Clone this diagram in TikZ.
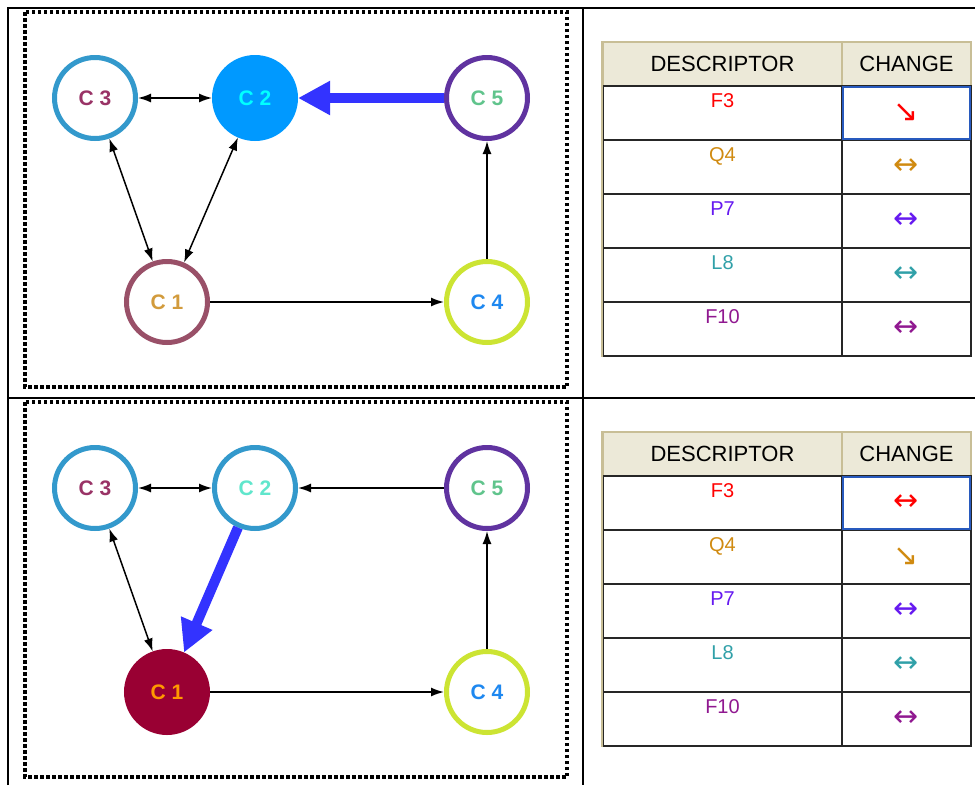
\documentclass[tikz,border=0pt]{standalone}
\usepackage{fontspec}
\setmainfont{Liberation Sans}
\newfontfamily\glyphfont{DejaVu Sans}
\usepackage{tikz}
\usetikzlibrary{arrows.meta,positioning}
\definecolor{RingBlue}{RGB}{51, 153, 204}
\definecolor{FillBlue}{RGB}{0, 153, 255}
\definecolor{RingPurple}{RGB}{96, 51, 160}
\definecolor{RingMauve}{RGB}{153, 80, 104}
\definecolor{RingLime}{RGB}{204, 228, 51}
\definecolor{FillWine}{RGB}{153, 0, 51}
\definecolor{TxtMaroon}{RGB}{153, 51, 102}
\definecolor{TxtCyan}{RGB}{0, 255, 255}
\definecolor{TxtMint}{RGB}{96, 196, 140}
\definecolor{TxtGold}{RGB}{210, 155, 60}
\definecolor{TxtSky}{RGB}{30, 136, 240}
\definecolor{TxtAqua}{RGB}{96, 230, 204}
\definecolor{TxtOrange}{RGB}{255, 153, 0}
\definecolor{HotBlue}{RGB}{51, 51, 255}
\definecolor{HeadBeige}{RGB}{236, 233, 216}
\definecolor{HeadEdge}{RGB}{200, 190, 150}
\definecolor{SelBlue}{RGB}{40, 90, 190}
\definecolor{DescRed}{RGB}{255, 0, 0}
\definecolor{DescGold}{RGB}{208, 138, 16}
\definecolor{DescViolet}{RGB}{102, 26, 240}
\definecolor{DescTeal}{RGB}{48, 160, 168}
\definecolor{DescPlum}{RGB}{144, 24, 144}

\begin{document}
\begin{tikzpicture}[x=1pt, y=-1pt,
    ring/.style={circle, line width=5pt, minimum size=81pt, inner sep=0pt, fill=white, font=\fontsize{21}{25}\selectfont\bfseries},
    link/.style={line width=1.5pt, -{Latex[length=13pt,width=9pt]}},
    twolink/.style={line width=1.5pt, {Latex[length=13pt,width=9pt]}-{Latex[length=13pt,width=9pt]}},
    bigflow/.style={line width=10pt, HotBlue, -{Triangle[length=32pt,width=32pt]}},
    dotframe/.style={line width=4pt, dash pattern=on 3.5pt off 2.5pt},
    headcell/.style={draw=HeadEdge, line width=1.5pt, fill=HeadBeige, minimum height=44pt, inner sep=0pt, font=\fontsize{22}{26}\selectfont},
    desccell/.style={draw=black!85, line width=1.5pt, minimum width=239pt, minimum height=54pt, inner sep=0pt},
    chgcell/.style={draw=black!85, line width=1.5pt, minimum width=129pt, minimum height=54pt, inner sep=0pt, font=\glyphfont\fontsize{30}{34}\selectfont},
    desclabel/.style={inner sep=0pt, font=\fontsize{20}{24}\selectfont}]
  \useasboundingbox (0,0) rectangle (975,785);

  % outer grid
  \draw[line width=2.5pt] (8,785) -- (8,8) -- (975,8);
  \draw[line width=2.5pt] (583,8) -- (583,785);
  \draw[line width=2.5pt] (8,398) -- (975,398);
  \draw[dotframe] (25,12) rectangle (567,387);
  \draw[dotframe] (25,402) rectangle (567,777);

  % upper graph
  \node[ring, draw=RingBlue, text=TxtMaroon] (c3a) at (95,98) {C 3};
  \node[ring, draw=FillBlue, fill=FillBlue, text=TxtCyan] (c2a) at (255,98) {C 2};
  \node[ring, draw=RingPurple, text=TxtMint] (c5a) at (487,98) {C 5};
  \node[ring, draw=RingMauve, text=TxtGold] (c1a) at (167,302) {C 1};
  \node[ring, draw=RingLime, text=TxtSky] (c4a) at (487,302) {C 4};
  \draw[twolink] (c3a) -- (c2a);
  \draw[twolink] (c3a) -- (c1a);
  \draw[twolink] (c2a) -- (c1a);
  \draw[link] (c1a) -- (c4a);
  \draw[link] (c4a) -- (c5a);
  \draw[bigflow] (c5a) -- (c2a);

  % lower graph
  \node[ring, draw=RingBlue, text=TxtMaroon] (c3b) at (95,488) {C 3};
  \node[ring, draw=RingBlue, text=TxtAqua] (c2b) at (255,488) {C 2};
  \node[ring, draw=RingPurple, text=TxtMint] (c5b) at (487,488) {C 5};
  \node[ring, draw=FillWine, fill=FillWine, text=TxtOrange] (c1b) at (167,692) {C 1};
  \node[ring, draw=RingLime, text=TxtSky] (c4b) at (487,692) {C 4};
  \draw[twolink] (c3b) -- (c2b);
  \draw[twolink] (c3b) -- (c1b);
  \draw[link] (c5b) -- (c2b);
  \draw[link] (c1b) -- (c4b);
  \draw[link] (c4b) -- (c5b);
  \draw[bigflow] (c2b) -- (c1b);

  % upper table
  \node[headcell, minimum width=239pt] (deschA) at (722.5,64) {DESCRIPTOR};
  \node[headcell, minimum width=129pt] (chghA) at (906.5,64) {CHANGE};
  \node[desccell] (descA1) at (722.5,113) {};
  \node[desccell] (descA2) at (722.5,167) {};
  \node[desccell] (descA3) at (722.5,221) {};
  \node[desccell] (descA4) at (722.5,275) {};
  \node[desccell] (descA5) at (722.5,329) {};
  \node[chgcell, text=DescRed] (chgA1) at (906.5,113) {↘};
  \node[chgcell, text=DescGold] (chgA2) at (906.5,167) {↔};
  \node[chgcell, text=DescViolet] (chgA3) at (906.5,221) {↔};
  \node[chgcell, text=DescTeal] (chgA4) at (906.5,275) {↔};
  \node[chgcell, text=DescPlum] (chgA5) at (906.5,329) {↔};
  \node[desclabel, text=DescRed, below=8pt of descA1.north] (labA1) {F3};
  \node[desclabel, text=DescGold, below=8pt of descA2.north] (labA2) {Q4};
  \node[desclabel, text=DescViolet, below=8pt of descA3.north] (labA3) {P7};
  \node[desclabel, text=DescTeal, below=8pt of descA4.north] (labA4) {L8};
  \node[desclabel, text=DescPlum, below=8pt of descA5.north] (labA5) {F10};
  \draw[HeadEdge, line width=2pt] (deschA.north west) -- (descA5.south west);
  \draw[SelBlue, line width=2pt] ([shift={(2pt,-2pt)}]chgA1.north west) rectangle ([shift={(-2pt,2pt)}]chgA1.south east);

  % lower table
  \node[headcell, minimum width=239pt] (deschB) at (722.5,454) {DESCRIPTOR};
  \node[headcell, minimum width=129pt] (chghB) at (906.5,454) {CHANGE};
  \node[desccell] (descB1) at (722.5,503) {};
  \node[desccell] (descB2) at (722.5,557) {};
  \node[desccell] (descB3) at (722.5,611) {};
  \node[desccell] (descB4) at (722.5,665) {};
  \node[desccell] (descB5) at (722.5,719) {};
  \node[chgcell, text=DescRed] (chgB1) at (906.5,503) {↔};
  \node[chgcell, text=DescGold] (chgB2) at (906.5,557) {↘};
  \node[chgcell, text=DescViolet] (chgB3) at (906.5,611) {↔};
  \node[chgcell, text=DescTeal] (chgB4) at (906.5,665) {↔};
  \node[chgcell, text=DescPlum] (chgB5) at (906.5,719) {↔};
  \node[desclabel, text=DescRed, below=8pt of descB1.north] (labB1) {F3};
  \node[desclabel, text=DescGold, below=8pt of descB2.north] (labB2) {Q4};
  \node[desclabel, text=DescViolet, below=8pt of descB3.north] (labB3) {P7};
  \node[desclabel, text=DescTeal, below=8pt of descB4.north] (labB4) {L8};
  \node[desclabel, text=DescPlum, below=8pt of descB5.north] (labB5) {F10};
  \draw[HeadEdge, line width=2pt] (deschB.north west) -- (descB5.south west);
  \draw[SelBlue, line width=2pt] ([shift={(2pt,-2pt)}]chgB1.north west) rectangle ([shift={(-2pt,2pt)}]chgB1.south east);
\end{tikzpicture}
\end{document}
